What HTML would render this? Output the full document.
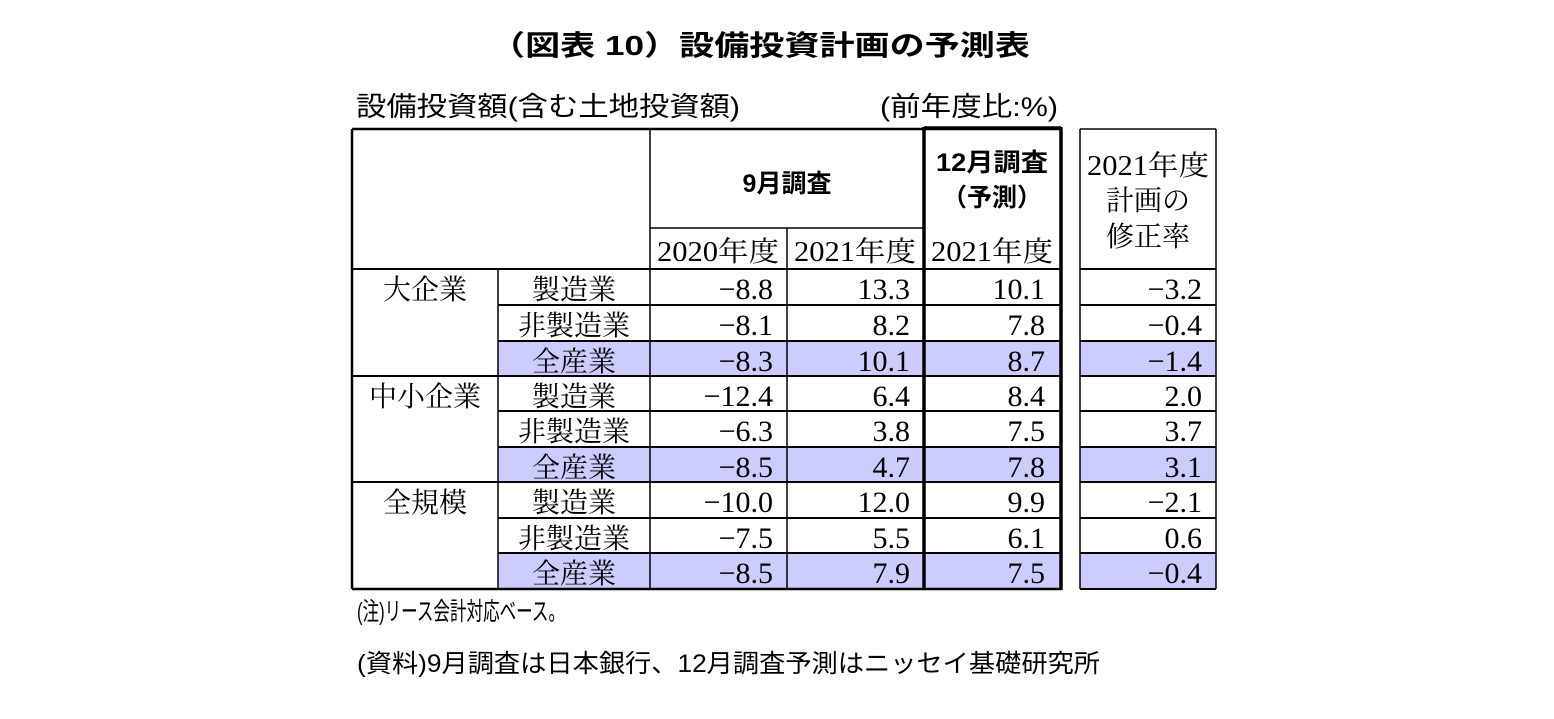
<!DOCTYPE html>
<html><head><meta charset="utf-8"><style>
html,body{margin:0;padding:0;background:#fff;width:1554px;height:719px;overflow:hidden}
svg text{fill:#000}
.s{font-family:"Liberation Serif","Noto Serif CJK JP",serif}
.g{font-family:"Liberation Sans","Noto Sans CJK JP",sans-serif}
</style></head><body>
<svg id="c" width="1554" height="719" xmlns="http://www.w3.org/2000/svg">
<text class="g" x="490" y="55" font-size="28" font-weight="bold" textLength="540" lengthAdjust="spacingAndGlyphs">（図表 10）設備投資計画の予測表</text>
<text class="g" x="356" y="116" font-size="27" textLength="384" lengthAdjust="spacingAndGlyphs">設備投資額(含む土地投資額)</text>
<text class="g" x="880" y="116" font-size="27" textLength="178" lengthAdjust="spacingAndGlyphs">(前年度比:%)</text>
<text class="g" x="357" y="620" font-size="25" textLength="208" lengthAdjust="spacingAndGlyphs">(注)リース会計対応ベース。</text>
<text class="g" x="357" y="672" font-size="25" textLength="743" lengthAdjust="spacingAndGlyphs">(資料)9月調査は日本銀行、12月調査予測はニッセイ基礎研究所</text>
<g id="tbl"></g>
</svg>
<script>
const groups = ["大企業","中小企業","全規模"];
const industries = ["製造業","非製造業","全産業"];
const sep2020 = [-8.8,-8.1,-8.3,-12.4,-6.3,-8.5,-10.0,-7.5,-8.5];
const sep2021 = [13.3,8.2,10.1,6.4,3.8,4.7,12.0,5.5,7.9];
const dec2021 = [10.1,7.8,8.7,8.4,7.5,7.8,9.9,6.1,7.5];
const revision = [-3.2,-0.4,-1.4,2.0,3.7,3.1,-2.1,0.6,-0.4];

const NS="http://www.w3.org/2000/svg";
const g=document.getElementById('tbl');
function el(tag,attrs,txt){const e=document.createElementNS(NS,tag);for(const k in attrs)e.setAttribute(k,attrs[k]);if(txt!==undefined)e.textContent=txt;g.appendChild(e);return e;}
const rowY=[269,305,341,376,411,447,482,518,553,589];
const cx=[352,498,650,787,924,1061];
const rL=1080,rR=1216;
const fill="#ccccff";
function fmt(v){return (v<0?"−":"")+Math.abs(v).toFixed(1);}
for(let i=0;i<9;i++){
  if(i%3===2){
    let r=el('rect',{x:cx[1],y:rowY[i],width:cx[5]-cx[1],height:rowY[i+1]-rowY[i],fill:fill});
    
    
    let r2=el('rect',{x:rL,y:rowY[i],width:rR-rL,height:rowY[i+1]-rowY[i],fill:fill});
    
    
  }
}
function line(x1,y1,x2,y2,w){const l=el('line',{x1,y1,x2,y2,stroke:'#000','stroke-width':w});}
line(cx[0],129,cx[5],129,2.5);
line(cx[0],rowY[9],cx[5],rowY[9],2.5);
line(cx[0],129,cx[0],rowY[9],2.5);
line(cx[2],129,cx[2],rowY[9],1.5);
line(cx[3],228,cx[3],rowY[9],1.5);
line(cx[1],rowY[0],cx[1],rowY[9],1.5);
line(cx[2],228,cx[4],228,1.5);
line(cx[0],rowY[0],cx[5],rowY[0],2);
for(let i=1;i<9;i++){ if(i%3===0) line(cx[0],rowY[i],cx[5],rowY[i],2); else line(cx[1],rowY[i],cx[5],rowY[i],2); }
line(cx[4],127,cx[4],rowY[9]+1,3.5);
line(cx[5],127,cx[5],rowY[9]+1,3.5);
line(cx[4],128,cx[5],128,3.5);
line(rL,129,rL,rowY[9],1.5);
line(rR,129,rR,rowY[9],1.5);
line(rL,129,rR,129,1.5);
line(rL,rowY[9],rR,rowY[9],2);
for(let i=0;i<9;i++) line(rL,rowY[i],rR,rowY[i],2);
function t(x,y,s,cls,anchor,name,extra){const e=el('text',Object.assign({x,y,'font-size':s,class:cls,'text-anchor':anchor},extra||{}),name[1]);return e;}
t(787,192,25,'g','middle',['header-sep-survey','9月調査'],{'font-weight':'bold'});
t(992,171,25,'g','middle',['header-dec-survey','12月調査'],{'font-weight':'bold','textLength':112,'lengthAdjust':'spacingAndGlyphs'});
t(992,206,25,'g','middle',['header-forecast','（予測）'],{'font-weight':'bold'});
const hl={'textLength':122,'lengthAdjust':'spacingAndGlyphs'};
t(718,261,28,'s','middle',['header-fy2020','2020年度'],hl);
t(855,261,28,'s','middle',['header-fy2021-sep','2021年度'],hl);
t(992,261,28,'s','middle',['header-fy2021-dec','2021年度'],hl);
t(1148,175,28,'s','middle',['header-revision-1','2021年度'],hl);
t(1148,210,28,'s','middle',['header-revision-2','計画の']);
t(1148,246,28,'s','middle',['header-revision-3','修正率']);
for(let k=0;k<3;k++) t(425,rowY[k*3]+30,28,'s','middle',['group-label',groups[k]]);
for(let i=0;i<9;i++){
  const y=rowY[i]+30;
  t(574,y,28,'s','middle',['industry-label',industries[i%3]]);
  t(cx[3]-14,y,30,'s','end',['value-sep-2020',fmt(sep2020[i])]);
  t(cx[4]-14,y,30,'s','end',['value-sep-2021',fmt(sep2021[i])]);
  t(cx[5]-16,y,30,'s','end',['value-dec-2021',fmt(dec2021[i])]);
  t(rR-14,y,30,'s','end',['value-revision',fmt(revision[i])]);
}
</script>
</body></html>
